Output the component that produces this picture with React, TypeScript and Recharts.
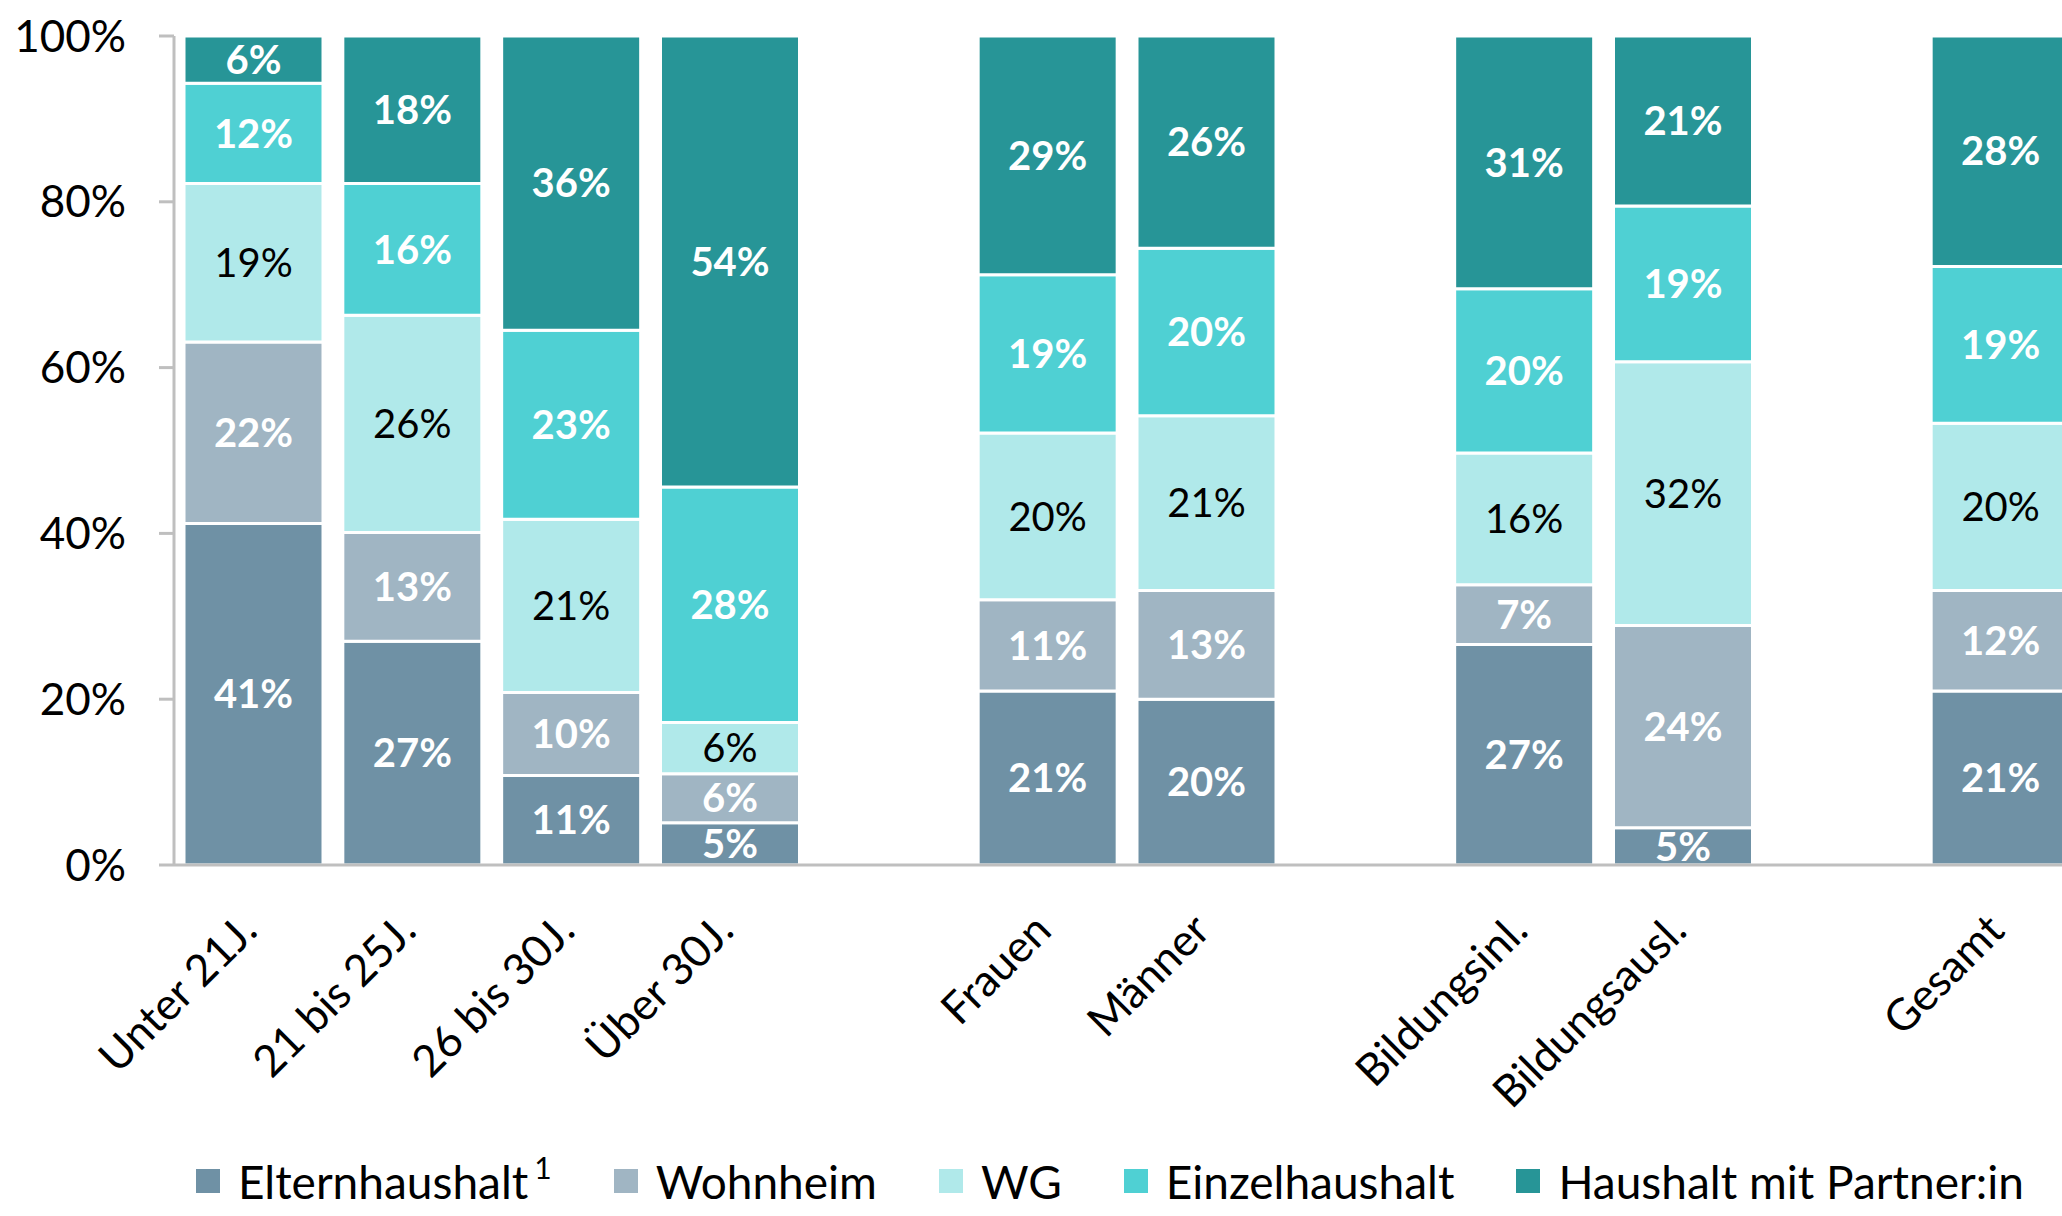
import { BarChart, Bar, XAxis, YAxis, Legend, LabelList } from 'recharts';

const categories = ['Unter 21J.', '21 bis 25J.', '26 bis 30J.', 'Über 30J.', '', 'Frauen', 'Männer', '', 'Bildungsinl.', 'Bildungsausl.', '', 'Gesamt'];
const eltern = [41.2, 27.0, 10.8, 5.1, null, 21.0, 20.0, null, 26.6, 4.5, null, 21.0];
const wohnheim = [21.9, 13.1, 10.0, 5.9, null, 11.0, 13.1, null, 7.2, 24.4, null, 12.1];
const wg = [19.1, 26.2, 20.9, 6.2, null, 20.1, 21.1, null, 15.9, 31.8, null, 20.2];
const einzel = [12.1, 15.9, 22.8, 28.4, null, 19.1, 20.2, null, 19.8, 18.8, null, 18.9];
const partner = [5.7, 17.8, 35.5, 54.4, null, 28.8, 25.6, null, 30.5, 20.5, null, 27.8];
const yTicks = [0, 20, 40, 60, 80, 100];

const series = [
  { key: 'eltern', name: 'Elternhaushalt', values: eltern, color: '#6F91A5', label: '#fff', bold: true },
  { key: 'wohnheim', name: 'Wohnheim', values: wohnheim, color: '#A0B5C3', label: '#fff', bold: true },
  { key: 'wg', name: 'WG', values: wg, color: '#B0E9EA', label: '#000', bold: false },
  { key: 'einzel', name: 'Einzelhaushalt', values: einzel, color: '#4FD0D3', label: '#fff', bold: true },
  { key: 'partner', name: 'Haushalt mit Partner:in', values: partner, color: '#279597', label: '#fff', bold: true },
];

const data = categories.map((name, i) => {
  const row: Record<string, any> = { name };
  series.forEach((s) => { row[s.key] = s.values[i]; });
  return row;
});

const FONT = 'Lato, "Open Sans", sans-serif';
const GRAY = '#BFBFBF';

const CategoryTick = ({ x, y, payload }: any) => {
  const tx = x + 6;
  const ty = y + 68;
  return (
    <text x={tx} y={ty} transform={`rotate(-45 ${tx} ${ty})`} textAnchor="end" fontSize={44} fill="#000" fontFamily={FONT}>
      {payload.value}
    </text>
  );
};

const renderLegend = () => (
  <div style={{ display: 'flex', alignItems: 'center', height: 70, fontSize: 46, color: '#000', whiteSpace: 'nowrap', fontFamily: FONT }}>
    {series.map((s, i) => (
      <div key={s.key} style={{ display: 'flex', alignItems: 'center', marginRight: 62 }}>
        <span style={{ display: 'inline-block', width: 24, height: 24, background: s.color, marginRight: 18 }} />
        <span>
          {s.name}
          {i === 0 && <sup style={{ fontSize: 30, marginLeft: 6, position: 'relative', top: -4 }}>1</sup>}
        </span>
      </div>
    ))}
  </div>
);

export default function App() {
  return (
    <div style={{ position: 'fixed', left: 0, top: 0, width: 2062, height: 1216, overflow: 'hidden', background: '#fff', fontFamily: FONT }}>
      <BarChart width={2080} height={1216} data={data} margin={{ top: 36, right: 0, bottom: 0, left: 0 }} barSize={139}>
        <XAxis
          dataKey="name"
          axisLine={{ stroke: GRAY, strokeWidth: 3 }}
          tickLine={false}
          tickSize={0}
          tickMargin={0}
          height={281}
          interval={0}
          tick={<CategoryTick />}
        />
        <YAxis
          width={174}
          domain={[0, 100]}
          allowDataOverflow
          ticks={yTicks}
          tickFormatter={(v: number) => `${v}%`}
          axisLine={{ stroke: GRAY, strokeWidth: 3 }}
          tickLine={{ stroke: GRAY, strokeWidth: 3 }}
          tickSize={15}
          tickMargin={33}
          tick={{ fontSize: 44, fill: '#000', fontFamily: FONT }}
        />
        <Legend
          verticalAlign="bottom"
          content={renderLegend}
          wrapperStyle={{ left: 196, bottom: 0, width: 1900, height: 70 }}
        />
        {series.map((s) => (
          <Bar key={s.key} dataKey={s.key} name={s.name} stackId="a" fill={s.color} stroke="#fff" strokeWidth={3} isAnimationActive={false}>
            <LabelList
              dataKey={s.key}
              position="center"
              formatter={(v: any) => (v == null ? '' : `${Math.round(v)}%`)}
              fill={s.label}
              fontSize={40}
              fontWeight={s.bold ? 700 : 400}
              fontFamily={FONT}
            />
          </Bar>
        ))}
      </BarChart>
    </div>
  );
}
